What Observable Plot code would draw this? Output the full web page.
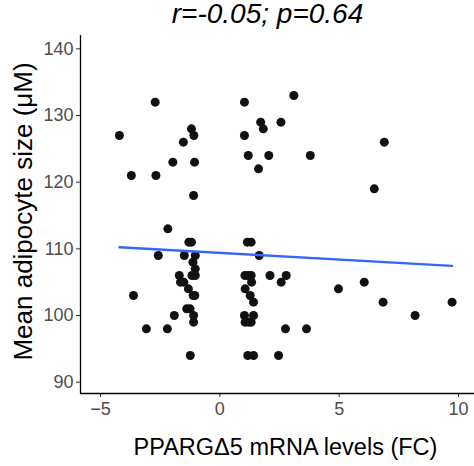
<!DOCTYPE html>
<html>
<head>
<meta charset="utf-8">
<script src="https://cdn.jsdelivr.net/npm/d3@7"></script>
<script src="https://cdn.jsdelivr.net/npm/@observablehq/plot@0.6"></script>
<style>
  html, body { margin: 0; padding: 0; background: white; }
</style>
</head>
<body>
<div id="chart"></div>
<script>
// PPARGΔ5 mRNA levels (FC)
const xValues = [
  -2.71, 1.03, -4.21, -1.19, -1.09, -1.53, -1.97, -1.06, -3.71, -2.68,
  -1.10, -2.18, 1.03, 1.71, 1.82, 1.19, 2.05, 1.62, 2.56, 3.10,
  3.79, 6.89, 6.47, -1.30, -1.19, 1.15, 1.31, -2.58, -1.49, -1.03,
  -1.13, -1.03, -1.70, -1.17, -1.03, -1.65, -1.51, -1.32, -3.62, -1.12,
  -1.05, -1.39, -1.25, -1.91, -1.10, -1.10, -3.08, -2.20, -1.24, 1.05,
  1.19, 1.31, 1.33, 1.06, 1.27, 1.41, 1.03, 1.41, 1.06, 1.20,
  1.31, 1.17, 1.41, 2.10, 2.57, 2.78, 4.97, 6.05, 6.84, 8.18,
  9.73, 2.75, 3.63, 2.46, 1.65
];
// Mean adipocyte size (μM)
const yValues = [
  132, 132, 127, 128, 127, 126, 123, 123, 121, 121,
  118, 113, 127, 129, 128, 124, 124, 122, 129, 133,
  124, 126, 119, 111, 111, 111, 111, 109, 109, 109,
  108, 107, 106, 106, 106, 105, 105, 104, 103, 103,
  103, 101, 101, 100, 100, 99, 98, 98, 94, 106,
  106, 106, 105, 104, 103, 102, 100, 100, 99, 99,
  99, 94, 94, 106, 105, 106, 104, 105, 102, 100,
  102, 98, 98, 94, 109
];
// fitted linear trend at its two ends
const fitX = [-4.21, 9.73];
const fitY = [110.24, 107.45];
const xTicks = [-5, 0, 5, 10];
const yTicks = [90, 100, 110, 120, 130, 140];
const titleText = "r=-0.05; p=0.64";
const xLabel = "PPARGΔ5 mRNA levels (FC)";
const yLabel = "Mean adipocyte size (μM)";

const data = xValues.map((x, i) => ({x, y: yValues[i]}));
const fit = fitX.map((x, i) => ({x, y: fitY[i]}));
const xDomain = [-5.84, 10.67];
const yDomain = [88.3, 142];

const chart = Plot.plot({
  width: 474,
  height: 466,
  marginLeft: 80,
  marginRight: 0,
  marginTop: 35,
  marginBottom: 73,
  style: {fontFamily: "'Liberation Sans', Arial, sans-serif", background: "white", overflow: "visible"},
  x: {domain: xDomain, label: null},
  y: {domain: yDomain, label: null},
  marks: [
    Plot.axisX({ticks: xTicks, tickSize: 4, tickPadding: 5, fontSize: 18, stroke: "#333333", fill: "#4d4d4d", label: null, tickFormat: d => d < 0 ? "\u2212" + Math.abs(d) : String(d)}),
    Plot.axisY({ticks: yTicks, tickSize: 4, tickPadding: 3, fontSize: 18, stroke: "#333333", fill: "#4d4d4d", label: null}),
    Plot.ruleX([xDomain[0]], {stroke: "black", strokeWidth: 1.3}),
    Plot.ruleY([yDomain[0]], {stroke: "black", strokeWidth: 1.3}),
    Plot.dot(data, {x: "x", y: "y", r: 4.5, fill: "#111111", stroke: "none"}),
    Plot.line(fit, {x: "x", y: "y", stroke: "#3366FF", strokeWidth: 2.3}),
    Plot.text([titleText], {frameAnchor: "top", textAnchor: "middle", dx: -10, dy: -21, fontSize: 28, fontStyle: "italic", fill: "black", lineAnchor: "middle"}),
    Plot.text([xLabel], {frameAnchor: "bottom", textAnchor: "middle", dx: 8, dy: 54, fontSize: 23.5, fill: "black", lineAnchor: "middle"}),
    Plot.text([yLabel], {frameAnchor: "left", textAnchor: "middle", dx: -57, dy: -3, rotate: -90, fontSize: 26, fill: "black", lineAnchor: "middle"})
  ]
});
document.getElementById("chart").appendChild(chart);
</script>
</body>
</html>
